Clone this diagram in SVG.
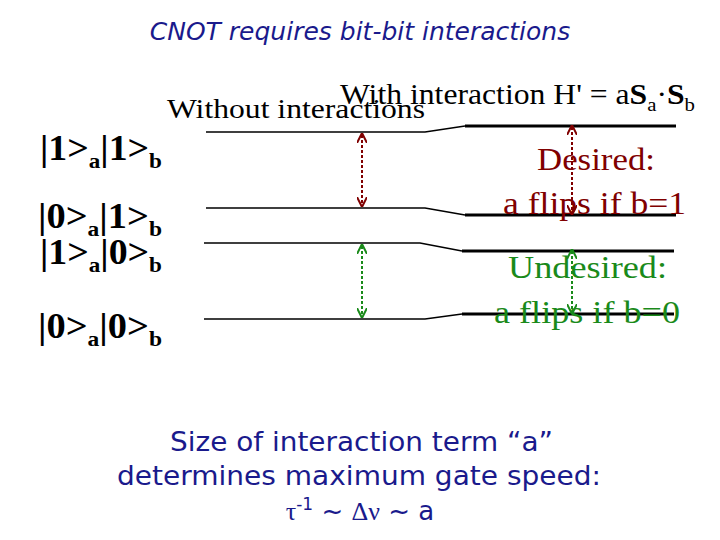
<svg xmlns="http://www.w3.org/2000/svg" width="720" height="540" viewBox="0 0 720 540">
<style>
.t{font-family:"Liberation Serif",serif}
.k{font-family:"Liberation Serif",serif;font-weight:bold;font-size:36px}
.s{font-family:"DejaVu Sans",sans-serif;font-size:26px;fill:#1a1a8c}
.r{stroke:#800000;stroke-width:2;stroke-dasharray:3,2;fill:none}
.g{stroke:#1a8a1a;stroke-width:2;stroke-dasharray:3,2;fill:none}
</style>
<defs>
<marker id="mr" viewBox="0 0 10 10" refX="8" refY="5" markerWidth="5" markerHeight="5" orient="auto-start-reverse"><path d="M0,0L10,5L0,10" fill="none" stroke="#800000" stroke-width="2"/></marker>
<marker id="mg" viewBox="0 0 10 10" refX="8" refY="5" markerWidth="5" markerHeight="5" orient="auto-start-reverse"><path d="M0,0L10,5L0,10" fill="none" stroke="#1a8a1a" stroke-width="2"/></marker>
</defs>
<rect width="720" height="540" fill="#fff"/>
<text x="360" y="40" text-anchor="middle" font-family="DejaVu Sans,sans-serif" font-style="italic" font-size="25" fill="#1a1a8c">CNOT requires bit-bit interactions</text>
<text class="t" x="340" y="104" font-size="29" textLength="355" lengthAdjust="spacingAndGlyphs">With interaction H' = a<tspan font-weight="bold">S</tspan><tspan font-size="19" dy="7">a</tspan><tspan dy="-7">·</tspan><tspan font-weight="bold">S</tspan><tspan font-size="19" dy="7">b</tspan></text>
<text class="t" x="167" y="118" font-size="28" textLength="258" lengthAdjust="spacingAndGlyphs">Without interactions</text>
<g id="lbl11"><text class="k" x="40" y="160" textLength="122" lengthAdjust="spacingAndGlyphs">|1&gt;<tspan font-size="22" dy="8">a</tspan><tspan dy="-8">|1&gt;</tspan><tspan font-size="22" dy="8">b</tspan></text></g>
<g id="lbl01"><text class="k" x="38" y="228" textLength="124" lengthAdjust="spacingAndGlyphs">|0&gt;<tspan font-size="22" dy="8">a</tspan><tspan dy="-8">|1&gt;</tspan><tspan font-size="22" dy="8">b</tspan></text></g>
<g id="lbl10"><text class="k" x="40" y="264" textLength="122" lengthAdjust="spacingAndGlyphs">|1&gt;<tspan font-size="22" dy="8">a</tspan><tspan dy="-8">|0&gt;</tspan><tspan font-size="22" dy="8">b</tspan></text></g>
<g id="lbl00"><text class="k" x="38" y="338" textLength="124" lengthAdjust="spacingAndGlyphs">|0&gt;<tspan font-size="22" dy="8">a</tspan><tspan dy="-8">|0&gt;</tspan><tspan font-size="22" dy="8">b</tspan></text></g>
<g id="levels" stroke="#000" fill="none">
<path d="M206,132H425L465,126" stroke-width="1.5"/><path d="M465,126H676" stroke-width="3"/>
<path d="M206,208H425L465,215" stroke-width="1.5"/><path d="M465,215H676" stroke-width="3"/>
<path d="M204,243H420L462,251" stroke-width="1.5"/><path d="M462,251H674" stroke-width="3"/>
<path d="M204,319H425L462,314" stroke-width="1.5"/><path d="M462,314H674" stroke-width="3"/>
</g>
<g id="connectors">
<path class="r" d="M362,135V205" marker-start="url(#mr)" marker-end="url(#mr)"/>
<path class="g" d="M362,246V316" marker-start="url(#mg)" marker-end="url(#mg)"/>
<path class="r" d="M572,127V213" marker-start="url(#mr)" marker-end="url(#mr)"/>
<path class="g" d="M572,251V312" marker-start="url(#mg)" marker-end="url(#mg)"/>
</g>
<g id="desired"><text class="t" x="537" y="170" font-size="31" fill="#800000" textLength="118" lengthAdjust="spacingAndGlyphs">Desired:</text>
<text class="t" x="503" y="214" font-size="31" fill="#800000" textLength="183" lengthAdjust="spacingAndGlyphs">a flips if b=1</text></g>
<g id="undesired"><text class="t" x="508" y="278" font-size="31" fill="#1a8a1a" textLength="159" lengthAdjust="spacingAndGlyphs">Undesired:</text>
<text class="t" x="494" y="323" font-size="31" fill="#1a8a1a" textLength="186" lengthAdjust="spacingAndGlyphs">a flips if b=0</text></g>
<text class="s" x="170" y="451" textLength="383" lengthAdjust="spacingAndGlyphs">Size of interaction term “a”</text>
<text class="s" x="117" y="485" textLength="484" lengthAdjust="spacingAndGlyphs">determines maximum gate speed:</text>
<text class="s" x="360" y="520" text-anchor="middle" font-size="27"><tspan font-family="Liberation Serif,serif">τ</tspan><tspan font-size="17" dy="-10">-1</tspan><tspan dy="10"> ~ </tspan><tspan font-family="Liberation Serif,serif">Δν</tspan> ~ a</text>
</svg>
